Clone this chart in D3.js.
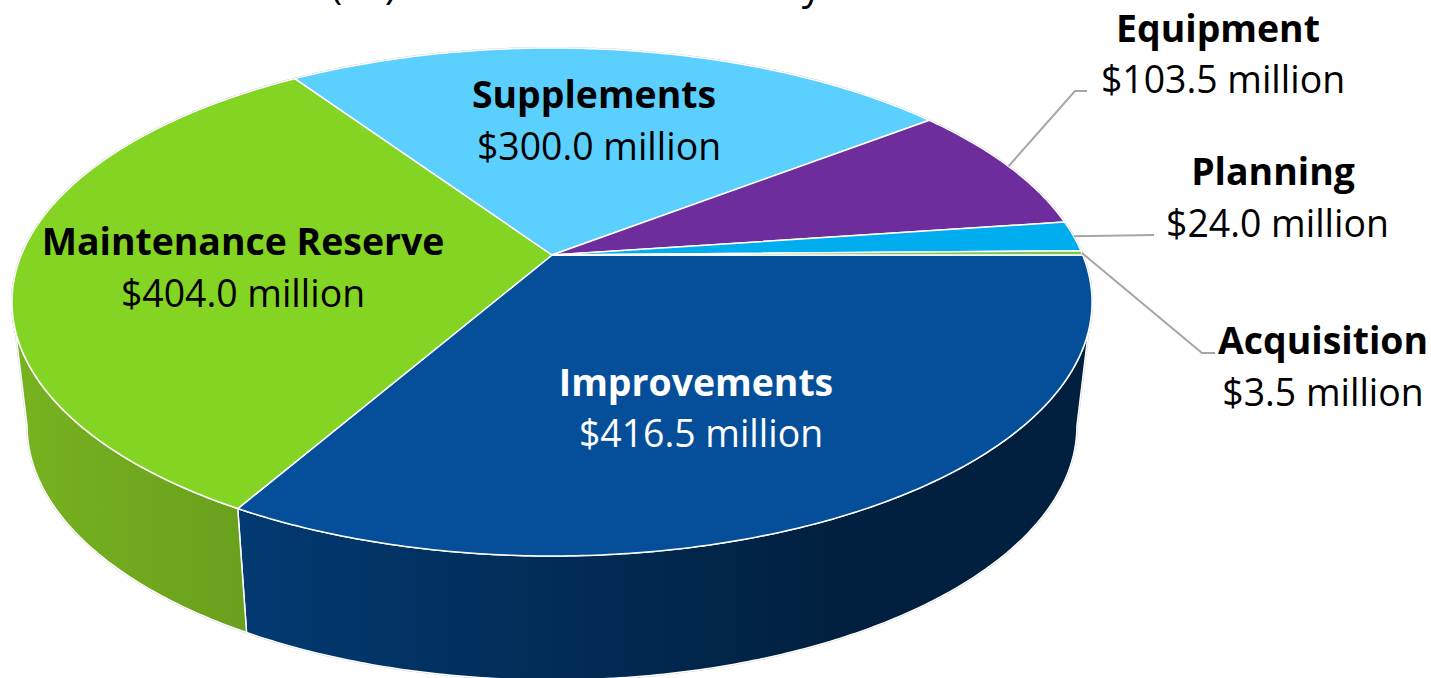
<!DOCTYPE html>
<html>
<head>
<meta charset="utf-8">
<script src="https://cdn.jsdelivr.net/npm/d3@7"></script>
<style>
  html, body { margin: 0; padding: 0; background: #fff; overflow: hidden; }
  text { font-family: "Open Sans", sans-serif; }
</style>
</head>
<body>
<svg id="chart"></svg>
<script>
const width = 1431, height = 678;

// chart data, $ million
const categories = ["Improvements", "Maintenance Reserve", "Supplements", "Equipment", "Planning", "Acquisition"];
const amounts = [416.5, 404.0, 300.0, 103.5, 24.0, 3.5];
const titleText = "(FY) Total Annual Authority";

const topColors = ["#054f9a", "#84d424", "#5bd0ff", "#6e2d9c", "#00aeef", "#7cc455"];
const wallColors = [["#023a72", "#01203f"], ["#77b220", "#69a01d"]];

// label centres: name x, value x, name baseline, value baseline
const labelSpots = [
    [696, 701, 396, 446.5],
    [243, 243, 255, 306.5],
    [594, 599, 108, 159.5],
    [1218, 1223, 42, 92.5],
    [1273, 1277.5, 185, 236.5],
    [1323, 1323, 354, 405.5]
];
// where the leader lines bend and stop (only the small outside slices have them)
const leaderEnds = {
    Equipment: [[1075, 91], [1087, 91]],
    Planning: [[1154, 235]],
    Acquisition: [[1202, 353], [1215, 353]]
};

// perspective of the tilted disc
const apex = { x: 552, y: 255 };
const tilt = -0.185, spanX = 530.7, spanY = 245.3;
const wallDepth = 124, bottomScale = 0.972;

const svg = d3.select("#chart")
    .attr("width", width)
    .attr("height", height)
    .style("display", "block");

const defs = svg.append("defs");

// project an angle (clockwise from 12 o'clock) on to the top face
function topPoint(angle) {
    const u = Math.sin(angle), v = -Math.cos(angle);
    const w = 1 + tilt * v;
    return [apex.x + spanX * u / w, apex.y + spanY * v / w];
}

function bottomPoint(angle) {
    const p = topPoint(angle);
    return [apex.x + (p[0] - apex.x) * bottomScale, p[1] + wallDepth];
}

function arcPoints(fn, a0, a1) {
    const n = Math.max(2, Math.ceil((a1 - a0) / 0.01));
    return d3.range(n + 1).map(i => fn(a0 + (a1 - a0) * i / n));
}

const line = d3.line();
const closed = pts => line(pts) + "Z";

const pie = d3.pie()
    .sort(null)
    .value(d => d.amount)
    .startAngle(Math.PI / 2)
    .endAngle(Math.PI / 2 + 2 * Math.PI);

const slices = pie(categories.map((name, i) => ({ name, amount: amounts[i], i })));

// walls run between the two angles where the disc is widest on screen
const wallFrom = Math.acos(tilt), wallTo = 2 * Math.PI - wallFrom;
const wallSlices = slices.filter(s => s.startAngle < wallTo && s.endAngle > wallFrom);

wallSlices.forEach((s, i) => {
    const a0 = Math.max(s.startAngle, wallFrom), a1 = Math.min(s.endAngle, wallTo);
    const grad = defs.append("linearGradient")
        .attr("id", "wall" + i)
        .attr("gradientUnits", "userSpaceOnUse")
        .attr("x1", i === 0 ? 240 : 20)
        .attr("x2", i === 0 ? 830 : 245)
        .attr("y1", 0)
        .attr("y2", 0);
    grad.append("stop").attr("offset", 0).attr("stop-color", wallColors[i][0]);
    grad.append("stop").attr("offset", 1).attr("stop-color", wallColors[i][1]);
    s.wallPath = closed(arcPoints(topPoint, a0, a1).concat(arcPoints(bottomPoint, a0, a1).reverse()));
});

slices.forEach(s => {
    s.topPath = closed([[apex.x, apex.y]].concat(arcPoints(topPoint, s.startAngle, s.endAngle)));
});

// faint grey fringe round the whole pie
const fringe = svg.append("g")
    .attr("fill", "none")
    .attr("stroke", "#c4c4c4")
    .attr("stroke-width", 2);
fringe.selectAll("path.w").data(wallSlices).join("path").attr("class", "w").attr("d", d => d.wallPath);
fringe.selectAll("path.t").data(slices).join("path").attr("class", "t").attr("d", d => d.topPath);

svg.append("g").selectAll("path")
    .data(wallSlices)
    .join("path")
    .attr("d", d => d.wallPath)
    .attr("fill", (d, i) => `url(#wall${i})`)
    .attr("stroke", "#fff")
    .attr("stroke-width", 1.5)
    .attr("stroke-linejoin", "round");

svg.append("g").selectAll("path")
    .data(slices)
    .join("path")
    .attr("d", d => d.topPath)
    .attr("fill", d => topColors[d.data.i])
    .attr("stroke", "#fff")
    .attr("stroke-width", 1.5)
    .attr("stroke-linejoin", "round");

// leader lines
svg.append("g").selectAll("path")
    .data(slices.filter(s => leaderEnds[s.data.name]))
    .join("path")
    .attr("d", d => line([topPoint((d.startAngle + d.endAngle) / 2)].concat(leaderEnds[d.data.name])))
    .attr("fill", "none")
    .attr("stroke", "#a6a6a6")
    .attr("stroke-width", 2);

// labels
const labels = svg.append("g").attr("text-anchor", "middle").attr("font-size", 37.4);

slices.forEach(s => {
    const spot = labelSpots[s.data.i];
    const colour = s.data.name === "Improvements" ? "#fff" : "#000";
    labels.append("text")
        .attr("x", spot[0])
        .attr("y", spot[2])
        .attr("font-weight", 700)
        .attr("fill", colour)
        .text(s.data.name);
    labels.append("text")
        .attr("x", spot[1])
        .attr("y", spot[3])
        .attr("fill", colour)
        .text("$" + d3.format(".1f")(s.data.amount) + " million");
});

// title sits mostly above the top edge in the picture
svg.append("text")
    .attr("x", 576)
    .attr("y", -1.5)
    .attr("text-anchor", "middle")
    .attr("font-size", 39.7)
    .attr("fill", "#000")
    .text(titleText);
</script>
</body>
</html>
